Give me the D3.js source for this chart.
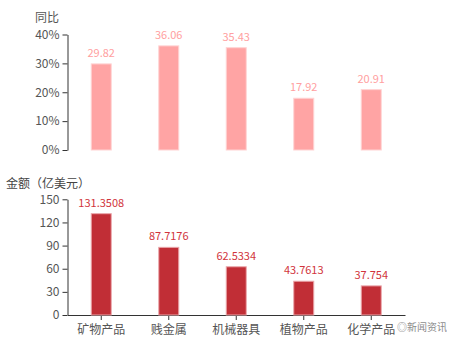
<!DOCTYPE html>
<html><head><meta charset="utf-8">
<script src="https://cdn.jsdelivr.net/npm/d3@7"></script>
<style>body{margin:0;background:#fff}svg{display:block;font-family:"Noto Sans CJK SC","Microsoft YaHei",sans-serif}</style>
</head><body><svg id="c" width="450" height="350"></svg>
<script>
const categories = ["矿物产品","贱金属","机械器具","植物产品","化学产品"];
const yoyValues = [29.82, 36.06, 35.43, 17.92, 20.91];
const amountValues = [131.3508, 87.7176, 62.5334, 43.7613, 37.754];
const yoyTicks = [0,10,20,30,40];
const amountTicks = [0,30,60,90,120,150];

const svg = d3.select("#c");
const left = 67.5, right = 405;
const x = d3.scaleBand().domain(categories).range([left,right]);
const barW = 20;

// top chart
const y1 = d3.scaleLinear().domain([0,40]).range([150,34.5]);
const g1 = svg.append("g");
const ax1 = g1.append("g").attr("transform",`translate(${left},0)`)
  .call(d3.axisLeft(y1).tickValues(yoyTicks).tickFormat(d=>d+"%").tickSize(5).tickSizeOuter(0));
g1.selectAll("rect").data(yoyValues).join("rect")
  .attr("x",(d,i)=>x(categories[i])+x.bandwidth()/2-barW/2)
  .attr("y",d=>y1(d)).attr("width",barW).attr("height",d=>150-y1(d))
  .attr("fill","#ffa4a4").attr("stroke","#ffd3d3").attr("stroke-width",1);
g1.selectAll("text.v").data(yoyValues).join("text").attr("class","v")
  .attr("x",(d,i)=>x(categories[i])+x.bandwidth()/2).attr("y",d=>y1(d)-7)
  .attr("text-anchor","middle").attr("font-size",11).attr("fill","#ffa0a0").text(d=>d.toFixed(2));
svg.append("text").attr("x",47).attr("y",22).attr("text-anchor","middle").attr("font-size",12).attr("fill","#555").text("同比");

// bottom chart
const y2 = d3.scaleLinear().domain([0,150]).range([315,199.3]);
const g2 = svg.append("g");
const ax2 = g2.append("g").attr("transform",`translate(${left},0)`)
  .call(d3.axisLeft(y2).tickValues(amountTicks).tickSize(5).tickSizeOuter(0));
const ax3 = g2.append("g").attr("transform",`translate(0,315)`)
  .call(d3.axisBottom(x).tickSize(5).tickSizeOuter(0));
g2.selectAll("rect").data(amountValues).join("rect")
  .attr("x",(d,i)=>x(categories[i])+x.bandwidth()/2-barW/2)
  .attr("y",d=>y2(d)).attr("width",barW).attr("height",d=>315-y2(d))
  .attr("fill","#c12e36").attr("stroke","#eaa6aa").attr("stroke-width",1);
g2.selectAll("text.v").data(amountValues).join("text").attr("class","v")
  .attr("x",(d,i)=>x(categories[i])+x.bandwidth()/2).attr("y",d=>y2(d)-7)
  .attr("text-anchor","middle").attr("font-size",11).attr("fill","#d1343c").text(d=>String(d));
svg.append("text").attr("x",6).attr("y",188).attr("font-size",12).attr("fill","#444").text("金额（亿美元）");

[ax1,ax2,ax3].forEach(a=>{
  a.select(".domain").attr("stroke","#333");
  a.selectAll(".tick line").attr("stroke","#333");
  a.selectAll(".tick text").attr("font-size",12).attr("fill","#555").attr("font-family","Noto Sans CJK SC");
});
ax3.selectAll(".tick text").attr("dy","0.9em");

// watermark
svg.append("text").attr("x",397).attr("y",331).attr("text-anchor","start").attr("font-size",10)
  .attr("fill","#777").attr("opacity",0.85).text("◎新闻资讯");
</script></body></html>
